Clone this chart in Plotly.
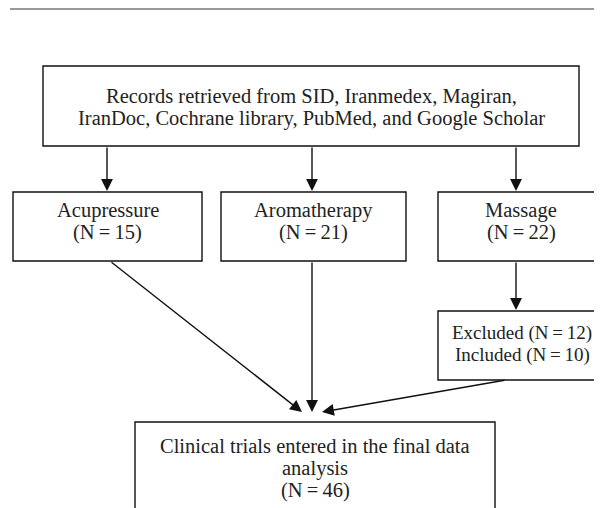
import plotly.graph_objects as go

# ---- data ----
search_lines = ["Records retrieved from SID, Iranmedex, Magiran,",
                "IranDoc, Cochrane library, PubMed, and Google Scholar"]
sources = ["Acupressure", "Aromatherapy", "Massage"]
source_n = [15, 21, 22]
massage_excluded = 12
massage_included = 10
final_lines = ["Clinical trials entered in the final data", "analysis"]
total_n = 46

# ---- layout (page-pixel coordinates; page body has an 8px offset) ----
OFF = 8
W, H = 602, 508
FONT = dict(family="Liberation Serif, Times New Roman, serif", size=20.5, color="#222222")
SMALL = dict(FONT, size=19)
LINE = dict(color="#111111", width=1.4)
LH = 22  # line height
EQ = "\u2009=\u2009"

top_box = (43, 66, 579, 146)
mid_boxes = [(13, 192, 202, 261), (221, 192, 406, 261), (438, 192, 603, 261)]
excl_box = (438, 311, 603, 380)
final_box = (135, 422, 495, 540)

shapes = []
annotations = []

def add_box(b):
    shapes.append(dict(type="rect", xref="x", yref="y", x0=b[0], y0=b[1], x1=b[2], y1=b[3],
                       line=LINE, fillcolor="rgba(0,0,0,0)"))

def add_lines(lines, cx, y0, font=FONT):
    for i, t in enumerate(lines):
        annotations.append(dict(x=cx, y=y0 + i * LH, xref="x", yref="y", text=t,
                                showarrow=False, font=font, xanchor="center", yanchor="middle"))

def add_arrow(x0, y0, x1, y1):
    annotations.append(dict(x=x1, y=y1, ax=x0, ay=y0, xref="x", yref="y", axref="x", ayref="y",
                            text="", showarrow=True, arrowhead=2, arrowsize=1.7, arrowwidth=1.4,
                            arrowcolor="#111111", standoff=0, startstandoff=0))

# top rule
shapes.append(dict(type="line", xref="x", yref="y", x0=10, y0=9, x1=602, y1=9,
                   line=dict(color="#333333", width=1)))

# top box
add_box(top_box)
add_lines(search_lines, (top_box[0] + top_box[2]) / 2, 96)

# source boxes
arrow_x = [107, 312, 516]
for b, name, n, axx in zip(mid_boxes, sources, source_n, arrow_x):
    add_box(b)
    cx = (b[0] + b[2]) / 2
    if b[2] >= 600:
        cx = 521
    add_lines([name, "(N%s%d)" % (EQ, n)], cx, 210)
    add_arrow(axx, top_box[3], axx, b[1] - 1)

# massage screening
add_arrow(516, mid_boxes[2][3], 516, excl_box[1] - 1)
add_box(excl_box)
add_lines(["Excluded (N%s%d)" % (EQ, massage_excluded),
           "Included (N%s%d)" % (EQ, massage_included)], 522, 333, SMALL)

# into final box
add_arrow(110, mid_boxes[0][3], 302, 412)
add_arrow(312, mid_boxes[1][3], 312, 412)
add_arrow(506, excl_box[3], 322, 412)

add_box(final_box)
add_lines(final_lines + ["(N%s%d)" % (EQ, total_n)], 315, 446)

fig = go.Figure()
fig.update_layout(
    width=W - OFF, height=H - OFF,
    margin=dict(l=0, r=0, t=0, b=0),
    paper_bgcolor="white", plot_bgcolor="white",
    xaxis=dict(range=[OFF, W], visible=False, fixedrange=True),
    yaxis=dict(range=[H, OFF], visible=False, fixedrange=True),
    shapes=shapes, annotations=annotations, showlegend=False,
)
fig.write_html("out.html")
